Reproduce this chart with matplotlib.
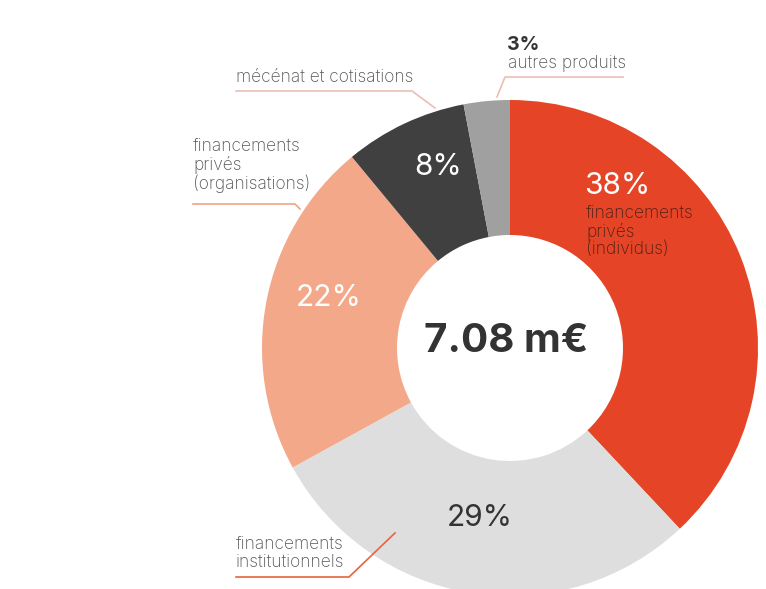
import matplotlib.pyplot as plt

# parts du budget (en %)
categories = ["financements privés (individus)", "financements institutionnels",
              "financements privés (organisations)", "mécénat et cotisations",
              "autres produits"]
shares = [38, 29, 22, 8, 3]
total_label = "7.08 m€"
colors = ["#E54526", "#DEDEDE", "#F3A889", "#404040", "#A0A0A0"]

W, H = 766, 589
plt.rcParams['font.family'] = ['Inter', 'DejaVu Sans']

fig = plt.figure(figsize=(W / 100, H / 100), dpi=100)
ax = fig.add_axes([0, 0, 1, 1])

cx, cy = 510, H - 348
r_out, r_in = 248, 113
ax.pie(shares, startangle=90, counterclock=False, colors=colors,
       radius=r_out, center=(cx, cy),
       wedgeprops=dict(width=r_out - r_in, edgecolor='none', linewidth=0))
ax.set_xlim(0, W)
ax.set_ylim(0, H)
ax.set_aspect('equal')
ax.axis('off')


def y(p):
    # pixel row -> data y
    return H - p


dark = "#333333"
grey = "#555555"

# centre
ax.text(506, y(342), total_label, ha='center', va='center', fontsize=29,
        fontweight='bold', color=dark)

# percentages on the ring
ax.text(584, y(186), f"{shares[0]}%", ha='left', va='center', fontsize=21.5,
        color='white')
ax.text(586, y(205), "financements\nprivés\n(individus)", ha='left', va='top',
        fontsize=12.5, color="#4E2016", linespacing=1.05, fontweight='light')
ax.text(480, y(518), f"{shares[1]}%", ha='center', va='center', fontsize=21.5,
        color=dark)
ax.text(329, y(298), f"{shares[2]}%", ha='center', va='center', fontsize=21.5,
        color='white')
ax.text(438, y(167), f"{shares[3]}%", ha='center', va='center', fontsize=21.5,
        color='white')

# outside labels
ax.text(507, y(45), f"{shares[4]}%", ha='left', va='center', fontsize=14,
        fontweight='bold', color=dark)
ax.text(508, y(64), "autres produits", ha='left', va='center', fontsize=12.5,
        color=grey, fontweight='light')
ax.plot([497, 505, 623], [y(97), y(77), y(77)], color="#E9BFB5", lw=1.2)

ax.text(236, y(77), "mécénat et cotisations", ha='left', va='center',
        fontsize=12.5, color=grey, fontweight='light')
ax.plot([236, 412, 435], [y(91), y(91), y(108)], color="#E9BFB5", lw=1.2)

ax.text(193, y(138), "financements\nprivés\n(organisations)", ha='left',
        va='top', fontsize=12.5, color=grey, linespacing=1.05,
        fontweight='light')
ax.plot([193, 295, 300], [y(204), y(204), y(209)], color="#F0A585", lw=1.2)

ax.text(236, y(536), "financements\ninstitutionnels", ha='left', va='top',
        fontsize=12.5, color=grey, linespacing=1.05, fontweight='light')
ax.plot([236, 349, 395], [y(577), y(577), y(533)], color="#E8643C", lw=1.2)

fig.savefig("out.png", dpi=100)
